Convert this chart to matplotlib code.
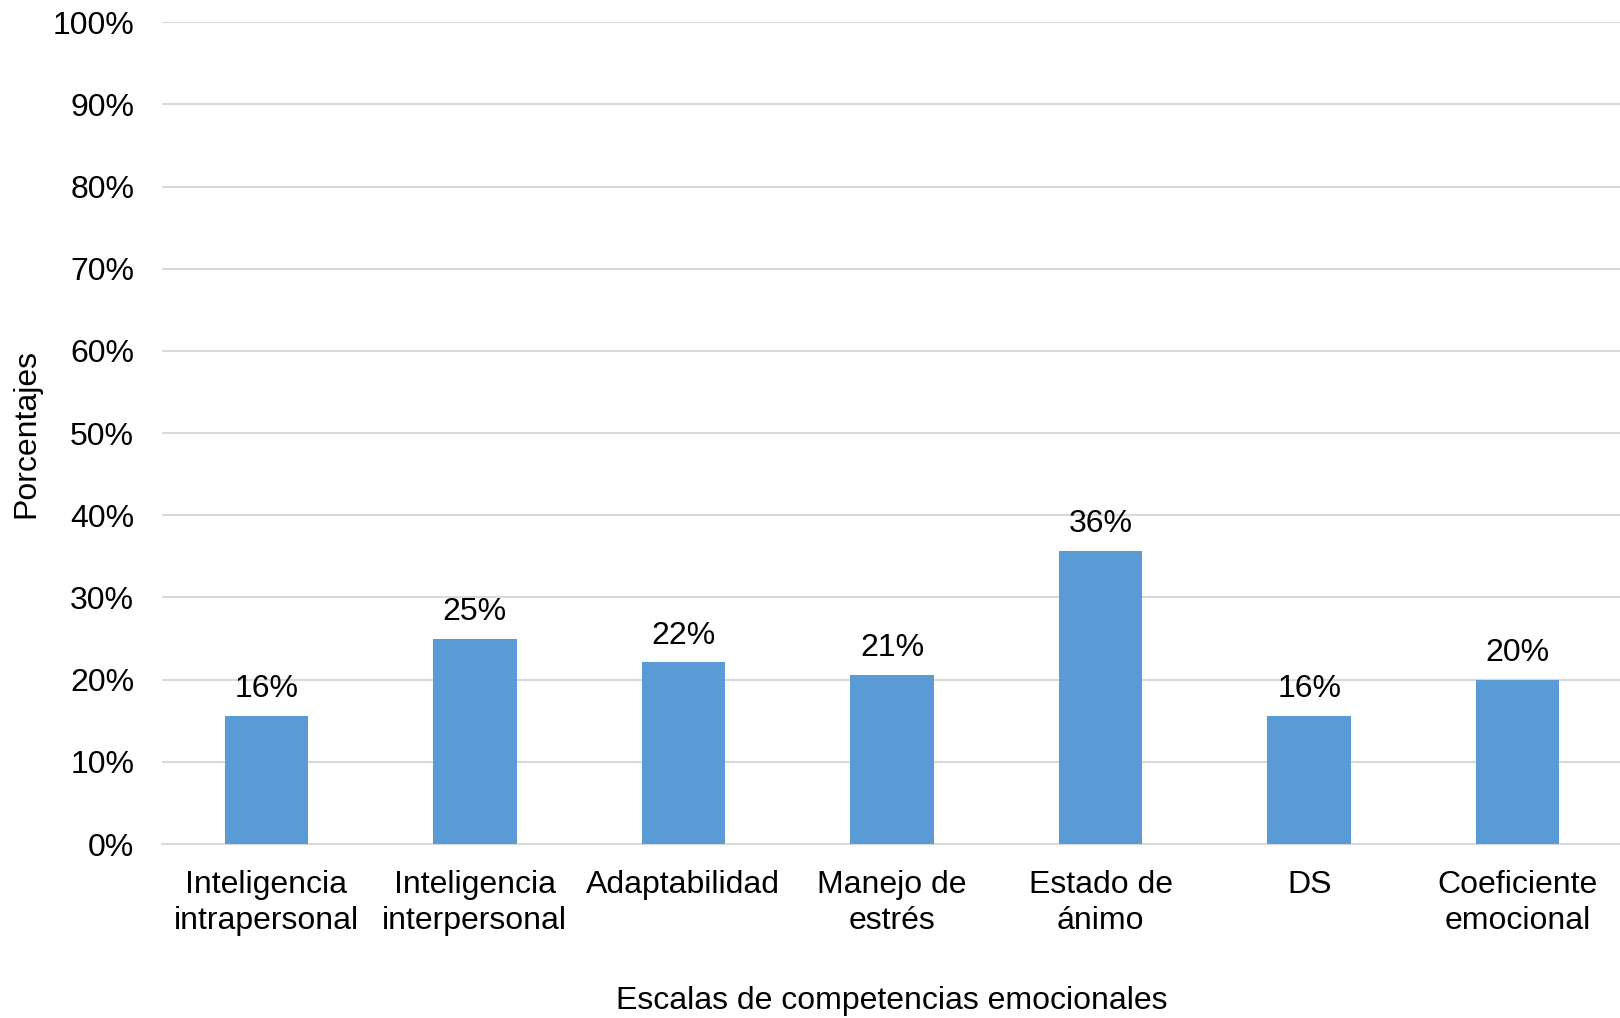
import matplotlib
matplotlib.use("Agg")
import matplotlib.pyplot as plt
import numpy as np

categories = ["Inteligencia\nintrapersonal", "Inteligencia\ninterpersonal", "Adaptabilidad",
              "Manejo de\nestrés", "Estado de\nánimo", "DS", "Coeficiente\nemocional"]
values = [15.6, 25.0, 22.1, 20.6, 35.7, 15.6, 20.0]
labels = ["16%", "25%", "22%", "21%", "36%", "16%", "20%"]
yticks = [0, 10, 20, 30, 40, 50, 60, 70, 80, 90, 100]
ytick_labels = [f"{t}%" for t in yticks]

plt.rcParams['font.family'] = ['Liberation Sans', 'DejaVu Sans']

W, H = 1620, 1018
FS = 23
fig = plt.figure(figsize=(W / 100, H / 100), dpi=100)
ax = fig.add_axes([162 / W, 174 / H, (1622 - 162) / W, (844 - 22.3) / H])

x = np.arange(len(categories))
ax.bar(x, values, width=0.4, color="#5B9BD5", zorder=3)

for xi, v, lab in zip(x, values, labels):
    ax.annotate(lab, (xi, v), xytext=(0, 8.5), textcoords="offset points",
                ha="center", va="bottom", fontsize=FS, color="black")

ax.set_xlim(-0.5, len(categories) - 0.5)
ax.set_ylim(0, 100)
ax.set_yticks(yticks)
ax.set_yticklabels(ytick_labels, fontsize=FS)
ax.set_xticks(x)
ax.set_xticklabels(categories, fontsize=FS, linespacing=1.27)
ax.tick_params(axis="y", length=0, pad=20)
ax.tick_params(axis="x", length=0, pad=18.5)
ax.grid(axis="y", color="#D9D9D9", linewidth=1.5, zorder=0)
for s in ["top", "right", "left"]:
    ax.spines[s].set_visible(False)
ax.spines["bottom"].set_color("#D9D9D9")
ax.spines["bottom"].set_linewidth(1.5)

ax.set_xlabel("Escalas de competencias emocionales", fontsize=FS, labelpad=36)
ax.set_ylabel("Porcentajes", fontsize=FS, labelpad=8)

fig.savefig("out.png", dpi=100)
